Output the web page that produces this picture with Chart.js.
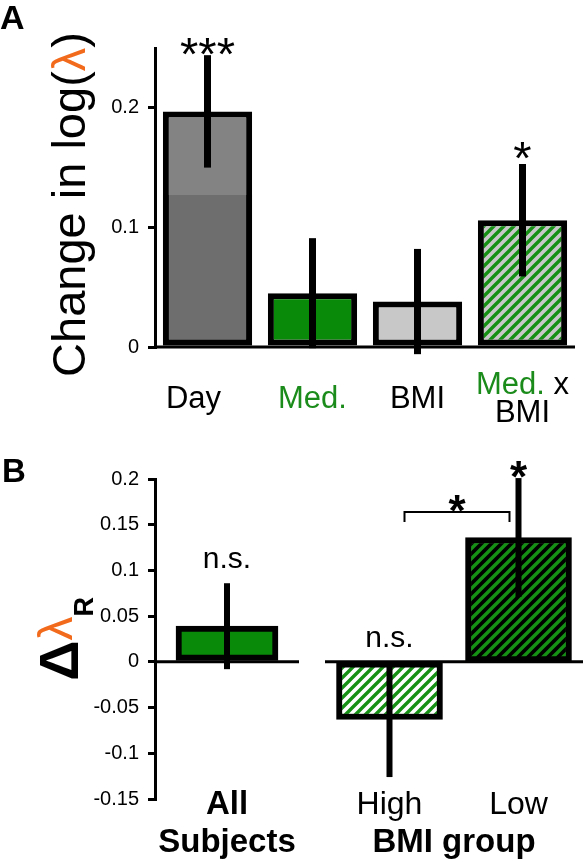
<!DOCTYPE html>
<html>
<head>
<meta charset="utf-8">
<script src="https://cdn.jsdelivr.net/npm/chart.js@4/dist/chart.umd.min.js"></script>
<style>
  html, body { margin: 0; padding: 0; background: #fff; }
  #wrap { position: relative; width: 585px; height: 863px; overflow: hidden; background: #fff; }
  canvas { position: absolute; }
</style>
</head>
<body>
<div id="wrap">
  <canvas id="cA" width="585" height="440" style="left:0;top:0;width:585px;height:440px"></canvas>
  <canvas id="cB1" width="300" height="423" style="left:0;top:440px;width:300px;height:423px"></canvas>
  <canvas id="cB2" width="285" height="423" style="left:300px;top:440px;width:285px;height:423px"></canvas>
</div>
<script>
// ---------------- DATA ----------------
// Panel A
const categoriesA = [['Day'], ['Med.'], ['BMI'], ['Med. x', 'BMI']];
const valuesA = [0.197, 0.045, 0.038, 0.106];
const errorsA = [0.047, 0.046, 0.044, 0.047];
const dayDarkPartA = [0.127, null, null, null];
const marksA = ['***', '', '', '*'];
const yTicksA = [0, 0.1, 0.2];
const yRangeA = [0, 0.25];

// Panel B (left: all subjects, right: BMI groups)
const categoriesB1 = [['All', 'Subjects']];
const valuesB1 = [0.039];
const errorsB1 = [0.047];
const marksB1 = ['n.s.'];
const categoriesB2 = ['High', 'Low'];
const valuesB2 = [-0.063, 0.136];
const errorsB2 = [0.063, 0.065];
const marksB2 = ['n.s.', '*'];
const groupTitleB2 = 'BMI group';
const bracketB2 = { from: 0, to: 1, y: 0.164, label: '*' };
const yTicksB = [-0.15, -0.1, -0.05, 0, 0.05, 0.1, 0.15, 0.2];
const yRangeB = [-0.15, 0.2];

// ---------------- STYLE ----------------
const FONT = "'Liberation Sans', Arial, Helvetica, sans-serif";
const GREEN = '#098a09';
const TEXT_GREEN = '#1b8c1b';
const STRIPE_GREEN = '#159015';
const ORANGE = '#f26b1c';
const DARK_GREY = '#6e6e6e';
const LIGHT_GREY = '#838383';
const PALE_GREY = '#c8c8c8';

function stripes(bg, fg, p, lw) {
  const c = document.createElement('canvas');
  c.width = p; c.height = p;
  const g = c.getContext('2d');
  g.fillStyle = bg; g.fillRect(0, 0, p, p);
  g.strokeStyle = fg; g.lineWidth = lw; g.lineCap = 'square';
  g.beginPath();
  g.moveTo(-p, p); g.lineTo(p, -p);
  g.moveTo(0, p); g.lineTo(p, 0);
  g.moveTo(0, 2 * p); g.lineTo(2 * p, 0);
  g.stroke();
  return document.getElementById('cA').getContext('2d').createPattern(c, 'repeat');
}
const patMedBmi = stripes(PALE_GREY, STRIPE_GREEN, 10, 3.4);
const patHigh = stripes('#ffffff', STRIPE_GREEN, 10, 3.4);
const patLow = stripes('#000000', STRIPE_GREEN, 10, 3.4);

// ---------------- PLUGIN ----------------
function drawSegments(ctx, segs, x, y) {
  let cx = x;
  segs.forEach(s => {
    ctx.font = s.font;
    ctx.fillStyle = s.color || '#000';
    ctx.fillText(s.t, cx, y + (s.dy || 0));
    cx += ctx.measureText(s.t).width;
  });
  return cx - x;
}

const deco = {
  id: 'deco',
  afterDatasetsDraw(chart, args, o) {
    const ctx = chart.ctx, ca = chart.chartArea;
    const xs = chart.scales.x, ys = chart.scales.y;
    ctx.save();
    ctx.textAlign = 'left';
    ctx.textBaseline = 'alphabetic';
    // zero line
    const y0 = ys.getPixelForValue(0);
    ctx.strokeStyle = '#000'; ctx.lineWidth = 3; ctx.lineCap = 'butt';
    ctx.beginPath(); ctx.moveTo(ca.left, y0); ctx.lineTo(ca.right, y0); ctx.stroke();

    // error bars
    const ds = chart.data.datasets[o.errDataset];
    const meta = chart.getDatasetMeta(o.errDataset);
    o.errors.forEach((e, i) => {
      const v = ds.data[i];
      const x = meta.data[i].x;
      ctx.strokeStyle = '#000'; ctx.lineWidth = o.errWidth;
      ctx.beginPath();
      ctx.moveTo(x, ys.getPixelForValue(v + e));
      ctx.lineTo(x, ys.getPixelForValue(v - e));
      ctx.stroke();
    });

    // significance marks
    o.marks.forEach((m, i) => {
      if (!m) return;
      const v = ds.data[i], e = o.errors[i];
      const anchor = ys.getPixelForValue(Math.max(v + e, 0));
      const st = o.markStyle[m];
      ctx.font = st.font; ctx.fillStyle = '#000';
      ctx.textAlign = 'center';
      ctx.fillText(m, meta.data[i].x, anchor + st.dy);
    });
    ctx.textAlign = 'left';

    // bracket
    if (o.bracket) {
      const b = o.bracket;
      const x1 = xs.getPixelForValue(b.from) + b.inset1;
      const x2 = xs.getPixelForValue(b.to) - b.inset2;
      const yb = ys.getPixelForValue(b.y);
      ctx.strokeStyle = '#000'; ctx.lineWidth = 2;
      ctx.beginPath();
      ctx.moveTo(x1, yb + b.leg); ctx.lineTo(x1, yb); ctx.lineTo(x2, yb); ctx.lineTo(x2, yb + b.leg);
      ctx.stroke();
      const st = o.markStyle[b.label];
      ctx.font = st.font; ctx.fillStyle = '#000'; ctx.textAlign = 'center';
      ctx.fillText(b.label, (x1 + x2) / 2, yb + st.dy);
      ctx.textAlign = 'left';
    }

    // category labels
    const L = o.labels;
    chart.data.labels.forEach((lab, i) => {
      const lines = Array.isArray(lab) ? lab : [lab];
      const x = xs.getPixelForValue(i) + (L.dx ? (L.dx[i] || 0) : 0);
      const n = lines.length;
      lines.forEach((line, li) => {
        const base = L.align === 'center'
          ? ca.bottom + L.base + (li - (n - 1) / 2) * L.lh
          : ca.bottom + L.base + li * L.lh;
        ctx.font = L.font;
        const total = ctx.measureText(line).width;
        const words = line.split(' ');
        const segs = words.map((w, wi) => ({ t: (wi ? ' ' : '') + w, font: L.font, color: (L.colors && L.colors[w]) || '#000' }));
        drawSegments(ctx, segs, x - total / 2, base);
      });
    });
    if (o.groupTitle) {
      ctx.font = o.groupTitle.font; ctx.fillStyle = '#000'; ctx.textAlign = 'center';
      ctx.fillText(o.groupTitle.text, (ca.left + ca.right) / 2, ca.bottom + o.groupTitle.base);
      ctx.textAlign = 'left';
    }

    // panel letter
    if (o.panel) {
      ctx.font = o.panel.font; ctx.fillStyle = '#000';
      ctx.fillText(o.panel.text, o.panel.x, o.panel.y);
    }

    // rotated y title (multi-colour)
    if (o.yTitle) {
      const t = o.yTitle;
      ctx.save();
      let total = 0;
      t.segs.forEach(s => { ctx.font = s.font; total += ctx.measureText(s.t).width; });
      const cy = (ca.top + ca.bottom) / 2 + t.shift;
      ctx.translate(t.x, cy);
      ctx.rotate(-Math.PI / 2);
      drawSegments(ctx, t.segs, -total / 2, 0);
      ctx.restore();
    }
    ctx.restore();
  }
};
Chart.register(deco);

function yAxis(range, ticksArr, show) {
  return {
    display: show,
    min: range[0], max: range[1],
    afterBuildTicks: s => { s.ticks = ticksArr.map(v => ({ value: v })); },
    afterFit: s => { if (show) s.width = 155; },
    ticks: { font: { family: FONT, size: 20 }, color: '#000', padding: 9, callback: v => String(v) },
    grid: { drawOnChartArea: false, drawTicks: true, tickLength: 7, color: '#000', lineWidth: 3 },
    border: { display: true, color: '#000', width: 3 }
  };
}
const common = {
  responsive: false, animation: false, events: [],
  plugins: { legend: { display: false }, tooltip: { enabled: false } }
};
const starsStyleA = { font: '47px ' + FONT, dy: 15 };
const starStyleA = { font: '47px ' + FONT, dy: 10 };
const starStyleB = { font: 'bold 44px ' + FONT, dy: 14 };
const nsStyle = { font: '30px ' + FONT, dy: -15 };

// ---------------- CHART A ----------------
new Chart(document.getElementById('cA'), {
  type: 'bar',
  data: {
    labels: categoriesA,
    datasets: [
      { data: dayDarkPartA, backgroundColor: DARK_GREY, borderColor: '#000', borderWidth: 6, borderSkipped: 'end',
        grouped: false, barPercentage: 0.85, categoryPercentage: 1 },
      { data: valuesA, backgroundColor: [LIGHT_GREY, GREEN, PALE_GREY, patMedBmi], borderColor: '#000', borderWidth: 6,
        borderSkipped: false, grouped: false, barPercentage: 0.85, categoryPercentage: 1 }
    ]
  },
  options: Object.assign({}, common, {
    layout: { padding: { top: 48, bottom: 93, left: 0, right: 10 } },
    plugins: Object.assign({}, common.plugins, {
      deco: {
        errDataset: 1, errors: errorsA, errWidth: 7, marks: marksA,
        markStyle: { '***': starsStyleA, '*': starStyleA },
        labels: { font: '31px ' + FONT, align: 'center', base: 61, lh: 28, dx: [-14, 0, 0, 0], colors: { 'Med.': TEXT_GREEN } },
        panel: { text: 'A', font: 'bold 34px ' + FONT, x: 0, y: 29 },
        yTitle: { x: 85, shift: 7, segs: [
          { t: 'Change in log(', font: '47px ' + FONT },
          { t: 'λ', font: '47px ' + FONT, color: ORANGE },
          { t: ')', font: '47px ' + FONT }
        ] }
      }
    }),
    scales: { x: { display: false }, y: yAxis(yRangeA, yTicksA, true) }
  })
});

// ---------------- CHART B left ----------------
new Chart(document.getElementById('cB1'), {
  type: 'bar',
  data: {
    labels: categoriesB1,
    datasets: [{ data: valuesB1, backgroundColor: GREEN, borderColor: '#000', borderWidth: 6, borderSkipped: false, barThickness: 102 }]
  },
  options: Object.assign({}, common, {
    layout: { padding: { top: 39, bottom: 64, left: 0, right: 1 } },
    plugins: Object.assign({}, common.plugins, {
      deco: {
        errDataset: 0, errors: errorsB1, errWidth: 6, marks: marksB1,
        markStyle: { 'n.s.': nsStyle, '*': starStyleB },
        labels: { font: 'bold 33px ' + FONT, align: 'top', base: 15, lh: 38 },
        panel: { text: 'B', font: 'bold 33px ' + FONT, x: 2, y: 42 },
        yTitle: { x: 78, shift: 0, segs: [
          { t: 'Δ', font: 'bold 56px ' + FONT },
          { t: 'λ', font: '48px ' + FONT, color: ORANGE, dy: -6 },
          { t: 'R', font: 'bold 27px ' + FONT, dy: 15 }
        ] }
      }
    }),
    scales: { x: { display: false }, y: yAxis(yRangeB, yTicksB, true) }
  })
});

// ---------------- CHART B right ----------------
new Chart(document.getElementById('cB2'), {
  type: 'bar',
  data: {
    labels: categoriesB2,
    datasets: [{ data: valuesB2, backgroundColor: [patHigh, patLow], borderColor: '#000', borderWidth: 6, borderSkipped: false, barThickness: 106 }]
  },
  options: Object.assign({}, common, {
    layout: { padding: { top: 39, bottom: 64, left: 25, right: 2 } },
    plugins: Object.assign({}, common.plugins, {
      deco: {
        errDataset: 0, errors: errorsB2, errWidth: 6, marks: marksB2,
        markStyle: { 'n.s.': nsStyle, '*': starStyleB },
        bracket: Object.assign({}, bracketB2, { inset1: 15, inset2: 9, leg: 10 }),
        labels: { font: '32px ' + FONT, align: 'top', base: 15, lh: 38 },
        groupTitle: { text: groupTitleB2, font: 'bold 33px ' + FONT, base: 53 }
      }
    }),
    scales: { x: { display: false }, y: yAxis(yRangeB, yTicksB, false) }
  })
});
</script>
</body>
</html>
